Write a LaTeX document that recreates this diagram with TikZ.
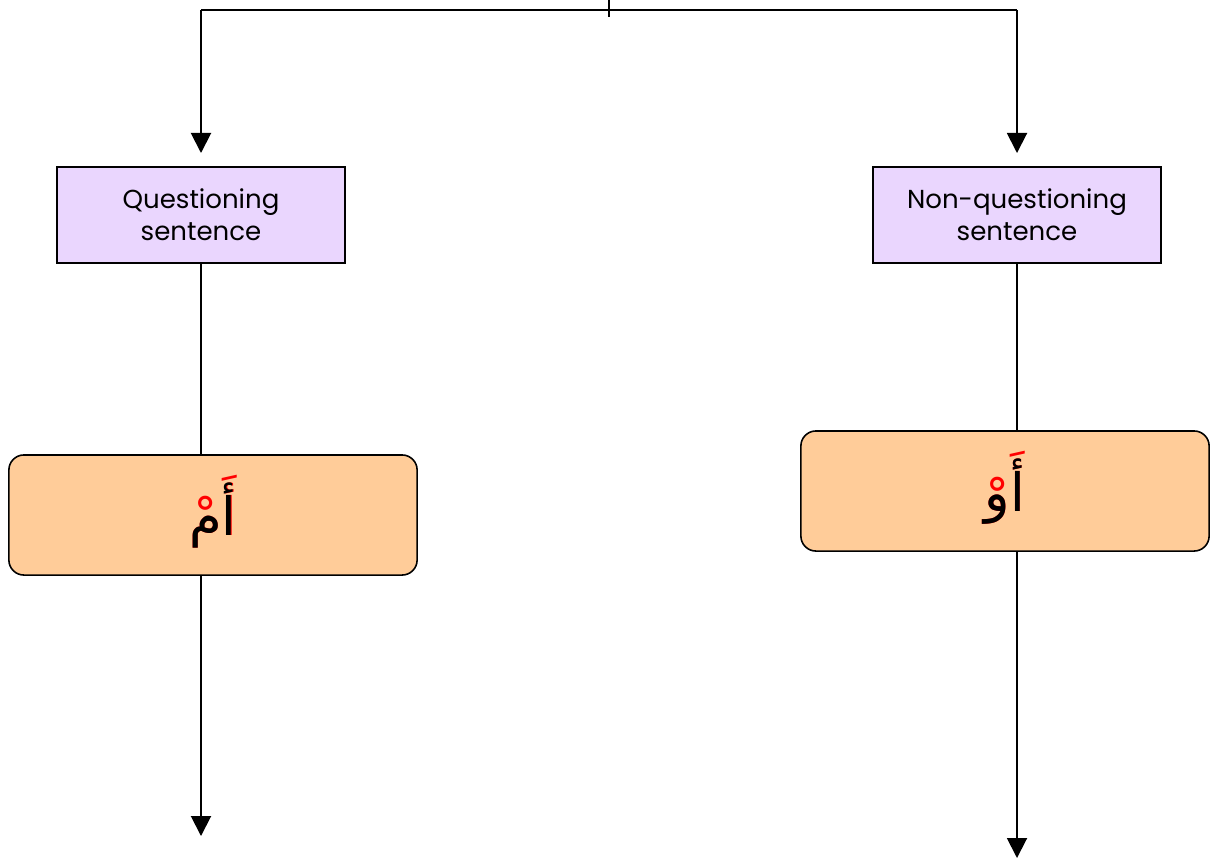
\documentclass[tikz,border=0pt]{standalone}
\usepackage{fontspec}
\usetikzlibrary{arrows.meta}
\TeXXeTstate=1
\newfontfamily\gothic{Poppins}
\newfontfamily\arabicfont[Script=Arabic]{DejaVu Sans}
\definecolor{lavbox}{HTML}{EAD6FE}
\definecolor{peach}{HTML}{FFCC99}
\tikzset{
  sqbox/.style={draw=black, line width=0.45pt, fill=lavbox, minimum width=2.88cm, minimum height=0.96cm, inner sep=0pt, align=center, font=\gothic\fontsize{7.4}{9.1}\selectfont},
  rbox/.style={draw=black, line width=0.45pt, fill=peach, rounded corners=0.15cm, minimum width=4.08cm, minimum height=1.2cm, inner sep=0pt},
  conn/.style={draw=black, line width=0.55pt},
  arr/.style={conn, -{Triangle[width=0.2cm,length=0.2cm]}},
}
\newcommand{\arword}[2]{\arabicfont\fontsize{15}{18}\selectfont\makebox[0pt]{\color{red}\beginR #1\endR}\makebox[0pt]{\color{black}\beginR #2\endR}}
\begin{document}
\begin{tikzpicture}[x=0.01cm,y=-0.01cm]
\useasboundingbox (0,0) rectangle (1212,860);
\coordinate (top) at (609,0);
\coordinate (tick) at (609,17);
\coordinate (hl) at (201,10);
\coordinate (hr) at (1017,10);
\node[sqbox] (q) at (201,215) {Questioning\\sentence};
\node[sqbox] (nq) at (1017,215) {Non-questioning\\sentence};
\node[rbox] (am) at (213,515) {};
\node[rbox] (aw) at (1005,491) {};
\node at (213,512) {\arword{أَمْ}{أم}};
\node at (1005,488) {\arword{أَوْ}{أو}};
\coordinate (endl) at (201,836);
\coordinate (endr) at (1017,858);
\draw[conn] (top) -- (tick);
\draw[conn] (hl) -- (hr);
\draw[arr] (hl) -- (201,153);
\draw[arr] (hr) -- (1017,153);
\draw[conn] (q.south) -- (q.south |- am.north);
\draw[conn] (nq.south) -- (nq.south |- aw.north);
\draw[arr] (q.south |- am.south) -- (endl);
\draw[arr] (nq.south |- aw.south) -- (endr);
\end{tikzpicture}
\end{document}
